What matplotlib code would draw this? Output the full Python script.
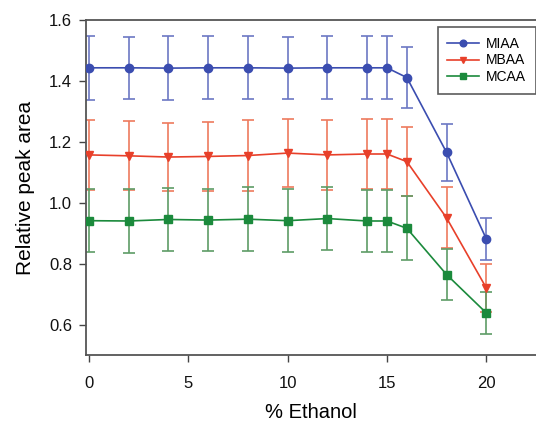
import matplotlib
matplotlib.use('Agg')
import matplotlib.pyplot as plt

plt.rcParams['font.family'] = ['Liberation Sans', 'DejaVu Sans']

# % ethanol and relative peak areas
ethanol = [0, 2, 4, 6, 8, 10, 12, 14, 15, 16, 18, 20]
miaa = [1.443, 1.443, 1.442, 1.443, 1.443, 1.442, 1.443, 1.443, 1.443, 1.411, 1.165, 0.881]
miaa_err = [0.105, 0.102, 0.104, 0.104, 0.104, 0.103, 0.103, 0.103, 0.103, 0.10, 0.095, 0.07]
mbaa = [1.157, 1.154, 1.150, 1.152, 1.155, 1.163, 1.157, 1.160, 1.160, 1.135, 0.950, 0.720]
mbaa_err = [0.115, 0.113, 0.113, 0.113, 0.115, 0.113, 0.114, 0.115, 0.115, 0.113, 0.10, 0.08]
mcaa = [0.941, 0.940, 0.945, 0.943, 0.946, 0.941, 0.948, 0.940, 0.940, 0.916, 0.764, 0.638]
mcaa_err = [0.103, 0.104, 0.103, 0.103, 0.104, 0.103, 0.103, 0.102, 0.102, 0.105, 0.084, 0.07]

fig = plt.figure(figsize=(5.36, 4.22), dpi=100)
ax = fig.add_axes([0.1604, 0.1588, 0.8396, 0.7938])

series = [
    ('MIAA', miaa, miaa_err, '#3b4db0', '#6c78c4', 'o'),
    ('MBAA', mbaa, mbaa_err, '#e8402a', '#ee7a5e', 'v'),
    ('MCAA', mcaa, mcaa_err, '#1b8a3c', '#5e9c66', 's'),
]
for name, vals, err, col, ecol, mk in series:
    ax.errorbar(ethanol, vals, yerr=err, fmt='none', ecolor=ecol, elinewidth=1.2,
                capsize=4.5, capthick=1.2, zorder=2)
    ax.plot(ethanol, vals, color=col, lw=1.2, marker=mk, markersize=6,
            markerfacecolor=col, markeredgecolor=col, label=name, zorder=3)

ax.set_xlim(-0.15, 22.5)
ax.set_ylim(0.5, 1.6)
ax.set_xticks([0, 5, 10, 15, 20])
ax.set_yticks([0.6, 0.8, 1.0, 1.2, 1.4, 1.6])
ax.set_yticklabels(['0.6', '0.8', '1.0', '1.2', '1.4', '1.6'])
ax.tick_params(direction='out', length=5, width=1, colors='#444444', labelcolor='#111111',
               labelsize=12)
ax.tick_params(axis='x', pad=10)
ax.tick_params(axis='y', pad=5)
ax.spines['right'].set_visible(False)
for s in ['left', 'bottom', 'top']:
    ax.spines[s].set_color('#555555')
    ax.spines[s].set_linewidth(1.3)

ax.set_xlabel('% Ethanol', fontsize=14.5, labelpad=9)
ax.set_ylabel('Relative peak area', fontsize=15, labelpad=10)

leg = ax.legend(loc='upper right', bbox_to_anchor=(536 / 536, (422 - 27) / 422),
                bbox_transform=fig.transFigure, borderaxespad=0, fontsize=10,
                frameon=True, fancybox=False, handlelength=2.3, borderpad=0.7,
                labelspacing=0.2, handletextpad=0.5, markerscale=0.8)
leg.get_frame().set_edgecolor('#333333')
leg.get_frame().set_linewidth(1.2)

fig.savefig('out.png', dpi=100)
